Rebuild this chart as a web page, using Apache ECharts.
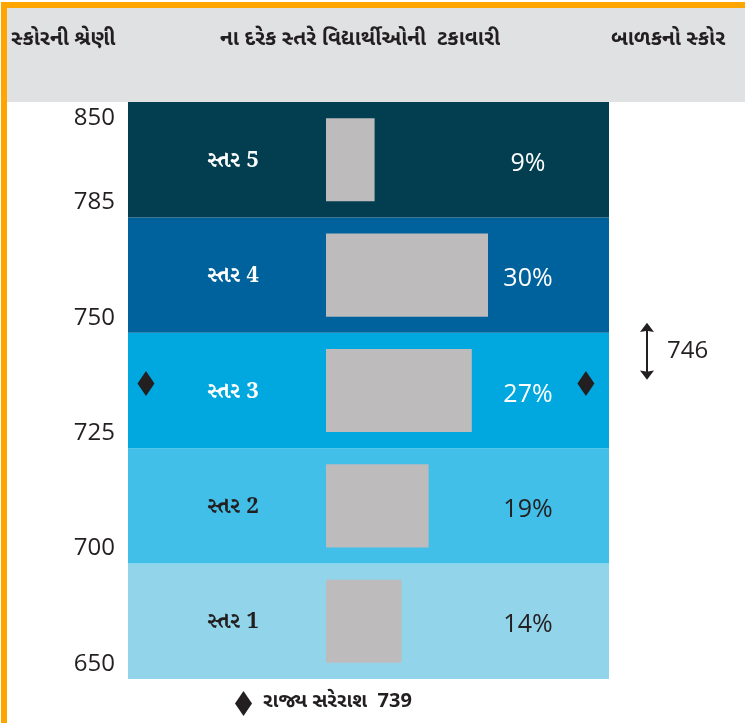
<!DOCTYPE html>
<html>
<head>
<meta charset="utf-8">
<script src="https://cdn.jsdelivr.net/npm/echarts@6/dist/echarts.min.js"></script>
<style>
  html, body { margin: 0; padding: 0; background: #fff; }
  #chart { width: 745px; height: 723px; }
</style>
</head>
<body>
<div id="chart"></div>
<script>
// levels, bottom to top
const levels = ['સ્તર 1', 'સ્તર 2', 'સ્તર 3', 'સ્તર 4', 'સ્તર 5'];
const percents = [14, 19, 27, 30, 9];
const bandColors = ['#92d5eb', '#41bfe8', '#00a8df', '#00629d', '#023e50'];
const labelColors = ['#231f20', '#231f20', '#ffffff', '#ffffff', '#ffffff'];
// score boundaries of the levels
const scoreBreaks = [650, 700, 725, 750, 785, 850];
const stateAvg = 739;
const childScore = 746;

const headers = ['સ્કોરની શ્રેણી', 'ના દરેક સ્તરે વિદ્યાર્થીઓની  ટકાવારી', 'બાળકનો સ્કોર'];

// score -> position on the band axis (each level has the same height)
function scoreToBand(s) {
  for (let i = 0; i < scoreBreaks.length - 1; i++) {
    if (s <= scoreBreaks[i + 1]) {
      return i + (s - scoreBreaks[i]) / (scoreBreaks[i + 1] - scoreBreaks[i]);
    }
  }
  return scoreBreaks.length - 1;
}

const dark = '#231f20';
const numFont = "'Open Sans', 'Noto Sans', sans-serif";
const gujFont = "'Noto Sans Gujarati', 'Noto Sans', sans-serif";

let chart = echarts.init(document.getElementById('chart'));
let option = {
  animation: false,
  graphic: [
    { type: 'rect', shape: { x: 1, y: 2, width: 744, height: 6 }, style: { fill: '#ffa500' } },
    { type: 'rect', shape: { x: 1, y: 2, width: 6, height: 721 }, style: { fill: '#ffa500' } },
    { type: 'rect', shape: { x: 7, y: 8, width: 738, height: 94 }, style: { fill: '#e0e1e3' } },
    { type: 'text', left: 11, top: 31, style: { text: headers[0], font: "bold 21px " + gujFont, fill: dark } },
    { type: 'text', left: 220, top: 31, style: { text: headers[1], font: "bold 21px " + gujFont, fill: dark } },
    { type: 'text', left: 611, top: 31, style: { text: headers[2], font: "bold 21px " + gujFont, fill: dark } }
  ],
  legend: {
    data: ['રાજ્ય સરેરાશ  ' + stateAvg],
    left: 230,
    top: 686,
    icon: 'diamond',
    itemWidth: 17,
    itemHeight: 25,
    itemGap: 8,
    itemStyle: { opacity: 1 },
    textStyle: { fontSize: 20, fontWeight: 'bold', color: dark, fontFamily: gujFont, padding: [0, 0, 0, 6] }
  },
  grid: [
    { left: 128, right: 136, top: 102, bottom: 44 },
    { left: 326, right: 136, top: 102, bottom: 44 }
  ],
  xAxis: [
    { gridIndex: 0, type: 'value', min: 0, max: 100, show: false },
    { gridIndex: 1, type: 'value', min: 0, max: 283 / 5.4, show: false }
  ],
  yAxis: [
    { gridIndex: 0, type: 'category', data: levels, show: false },
    {
      gridIndex: 0, type: 'value', min: 0, max: 5, interval: 1,
      position: 'left',
      axisLine: { show: false }, axisTick: { show: false }, splitLine: { show: false },
      axisLabel: {
        margin: 13,
        showMinLabel: true,
        showMaxLabel: true,
        formatter: function (v) {
          return v === 5 ? '{top|' + scoreBreaks[v] + '}' : '{up|' + scoreBreaks[v] + '}';
        },
        rich: {
          top: { fontSize: 24, color: dark, fontFamily: numFont, padding: [32, 0, 0, 0] },
          up: { fontSize: 24, color: dark, fontFamily: numFont, padding: [0, 0, 30, 0] }
        }
      }
    },
    { gridIndex: 1, type: 'category', data: levels, show: false }
  ],
  series: [
    {
      name: 'bands',
      type: 'bar',
      xAxisIndex: 0, yAxisIndex: 0,
      barCategoryGap: 0,
      barWidth: '100%',
      data: levels.map((l, i) => ({
        value: 100,
        itemStyle: { color: bandColors[i] },
        label: { color: labelColors[i] }
      })),
      label: {
        show: true,
        position: [105, '50%'],
        offset: [0, 3],
        align: 'center',
        verticalAlign: 'middle',
        fontSize: 22,
        fontWeight: 'bold',
        fontFamily: "'Noto Serif Gujarati', 'Noto Sans Gujarati', 'DejaVu Serif', serif",
        formatter: (p) => levels[p.dataIndex]
      },
      z: 1
    },
    {
      name: 'pct',
      type: 'bar',
      xAxisIndex: 0, yAxisIndex: 0,
      barGap: '-100%',
      barWidth: '100%',
      data: levels.map((l, i) => ({
        value: 100,
        itemStyle: { color: 'rgba(0,0,0,0)' },
        label: { color: labelColors[i] }
      })),
      label: {
        show: true,
        position: [400, '50%'],
        offset: [0, 4],
        align: 'center',
        verticalAlign: 'middle',
        fontSize: 25,
        fontFamily: numFont,
        formatter: (p) => percents[p.dataIndex] + '%'
      },
      z: 2
    },
    {
      name: 'students',
      type: 'bar',
      xAxisIndex: 1, yAxisIndex: 2,
      barCategoryGap: '28%',
      itemStyle: { color: '#bdbbbc' },
      data: percents,
      z: 3
    },
    {
      name: 'રાજ્ય સરેરાશ  ' + stateAvg,
      type: 'scatter',
      xAxisIndex: 0, yAxisIndex: 1,
      symbol: 'diamond',
      symbolSize: [17, 25],
      itemStyle: { color: dark, opacity: 1 },
      clip: false,
      data: [[3.74, scoreToBand(stateAvg)], [95.2, scoreToBand(stateAvg)]],
      z: 5
    },
    {
      name: 'child',
      type: 'scatter',
      xAxisIndex: 0, yAxisIndex: 1,
      symbol: 'path://M7 0 L14 9 L8 8 L8 48 L14 47 L7 56 L0 47 L6 48 L6 8 L0 9 Z',
      symbolSize: [14, 57],
      symbolKeepAspect: false,
      itemStyle: { color: dark, opacity: 1 },
      clip: false,
      label: {
        show: true,
        position: 'right',
        distance: 13,
        fontSize: 24,
        color: dark,
        fontFamily: numFont,
        formatter: () => String(childScore)
      },
      data: [[107.9, scoreToBand(childScore)]],
      z: 5
    }
  ]
};
chart.setOption(option);
</script>
</body>
</html>
